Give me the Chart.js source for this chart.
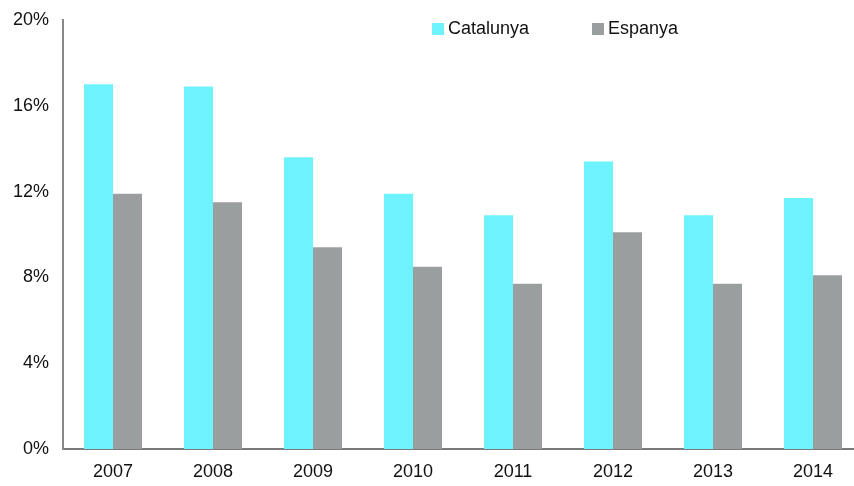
<!DOCTYPE html>
<html>
<head>
<meta charset="utf-8">
<script src="https://cdn.jsdelivr.net/npm/chart.js@4"></script>
<style>
  html, body { margin: 0; padding: 0; overflow: hidden; background: #fff; }
  #wrap { width: 864px; height: 486px; }
</style>
</head>
<body>
<div id="wrap"><canvas id="chart"></canvas></div>
<script>
const years = ['2007', '2008', '2009', '2010', '2011', '2012', '2013', '2014'];
const catalunya = [17.0, 16.9, 13.6, 11.9, 10.9, 13.4, 10.9, 11.7];
const espanya = [11.9, 11.5, 9.4, 8.5, 7.7, 10.1, 7.7, 8.1];
const seriesNames = ['Catalunya', 'Espanya'];

// legend drawn inside the plot, spaced like the original
const legendInside = {
    id: 'legendInside',
    afterDraw(chart) {
        const ctx = chart.ctx;
        const starts = [432, 592];
        ctx.save();
        ctx.font = '18px "Liberation Sans", Arial, sans-serif';
        ctx.textBaseline = 'middle';
        chart.data.datasets.forEach(function (ds, i) {
            ctx.fillStyle = ds.backgroundColor;
            ctx.fillRect(starts[i], 23, 12, 12);
            ctx.fillStyle = '#111';
            ctx.fillText(ds.label, starts[i] + 16, 29);
        });
        ctx.restore();
    }
};

new Chart(document.getElementById('chart'), {
    type: 'bar',
    data: {
        labels: years,
        datasets: [
            { label: seriesNames[0], data: catalunya, backgroundColor: '#6cf3fe' },
            { label: seriesNames[1], data: espanya, backgroundColor: '#9b9e9f' }
        ]
    },
    options: {
        responsive: true,
        maintainAspectRatio: false,
        animation: false,
        layout: { padding: { top: 20, right: 1, left: 0, bottom: 0 } },
        datasets: { bar: { categoryPercentage: 0.58, barPercentage: 1 } },
        plugins: {
            legend: { display: false },
            tooltip: { enabled: false }
        },
        scales: {
            x: {
                grid: { display: false, drawTicks: false },
                border: { color: '#7a7a7a', width: 2 },
                ticks: {
                    color: '#111',
                    padding: 12,
                    font: { family: '"Liberation Sans", Arial, sans-serif', size: 18 }
                },
                afterFit: function (s) { s.height = 37; s.paddingLeft = 0; s.paddingRight = 0; }
            },
            y: {
                min: 0,
                max: 20,
                grid: { display: false, drawTicks: false },
                border: { color: '#888', width: 2 },
                ticks: {
                    stepSize: 4,
                    color: '#111',
                    padding: 14,
                    callback: function (v) { return v + '%'; },
                    font: { family: '"Liberation Sans", Arial, sans-serif', size: 18 }
                },
                afterFit: function (s) { s.width = 63; s.paddingTop = 0; s.paddingBottom = 0; }
            }
        }
    },
    plugins: [legendInside]
});
</script>
</body>
</html>
